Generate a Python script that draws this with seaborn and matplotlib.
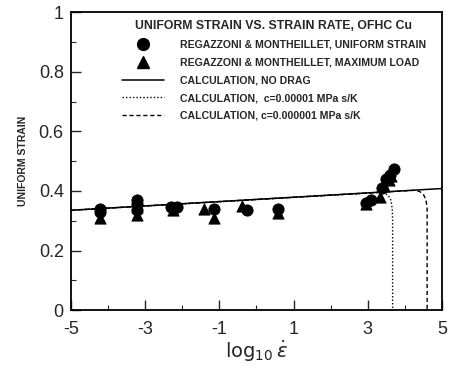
import matplotlib
matplotlib.use("Agg")
import matplotlib.pyplot as plt
import seaborn as sns
from matplotlib.lines import Line2D
from matplotlib.ticker import MultipleLocator

# ---- data ----
circ_x = [-4.22, -4.22, -3.22, -3.22, -3.22, -2.3, -2.15, -1.15, -0.25, 0.58, 2.95, 3.1, 3.38, 3.5, 3.6, 3.7]
circ_y = [0.34, 0.33, 0.37, 0.355, 0.335, 0.345, 0.345, 0.34, 0.335, 0.34, 0.36, 0.37, 0.41, 0.44, 0.455, 0.475]

tri_x = [-4.22, -3.22, -3.22, -2.25, -1.4, -1.15, -0.4, 0.58, 2.95, 3.33, 3.45, 3.58, 3.62]
tri_y = [0.31, 0.32, 0.345, 0.335, 0.34, 0.31, 0.35, 0.325, 0.355, 0.38, 0.415, 0.435, 0.45]

nodrag_x = [-5.0, 5.0]
nodrag_y = [0.335, 0.408]

c5_x = [-5.0, 3.3, 3.45, 3.55, 3.62, 3.66, 3.67, 3.67]
c5_y = [0.335, 0.395, 0.393, 0.385, 0.37, 0.34, 0.30, 0.0]

c6_x = [-5.0, 4.25, 4.4, 4.5, 4.57, 4.6, 4.6]
c6_y = [0.335, 0.402, 0.398, 0.388, 0.37, 0.34, 0.0]

x_ticks = [-5, -3, -1, 1, 3, 5]
x_tick_labels = ["-5", "-3", "-1", "1", "3", "5"]
y_ticks = [0, 0.2, 0.4, 0.6, 0.8, 1]
y_tick_labels = ["0", "0.2", "0.4", "0.6", "0.8", "1"]

legend_title = "UNIFORM STRAIN VS. STRAIN RATE, OFHC Cu"
legend_labels = [
    "REGAZZONI & MONTHEILLET, UNIFORM STRAIN",
    "REGAZZONI & MONTHEILLET, MAXIMUM LOAD",
    "CALCULATION, NO DRAG",
    "CALCULATION,  c=0.00001 MPa s/K",
    "CALCULATION, c=0.000001 MPa s/K",
]

sns.set_theme(style="ticks")
plt.rcParams["font.family"] = ["Liberation Sans", "DejaVu Sans"]
plt.rcParams["axes.unicode_minus"] = False

fig = plt.figure(figsize=(4.51, 3.67), dpi=100)
ax = fig.add_axes([0.157, 0.155, 0.823, 0.812])

sns.lineplot(x=nodrag_x, y=nodrag_y, ax=ax, color="black", lw=1.1,
             sort=False, estimator=None)
sns.lineplot(x=c5_x, y=c5_y, ax=ax, color="black", lw=1.0, linestyle=(0, (1, 1.5)),
             sort=False, estimator=None)
sns.lineplot(x=c6_x, y=c6_y, ax=ax, color="black", lw=1.0, linestyle=(0, (3, 2)),
             sort=False, estimator=None)
sns.scatterplot(x=circ_x, y=circ_y, ax=ax, marker="o", s=65, color="black",
                edgecolor="black", zorder=5)
sns.scatterplot(x=tri_x, y=tri_y, ax=ax, marker="^", s=65, color="black",
                edgecolor="black", zorder=5)

ax.set_xlim(-5, 5)
ax.set_ylim(0, 1)
ax.set_xticks(x_ticks)
ax.set_xticklabels(x_tick_labels)
ax.set_yticks(y_ticks)
ax.set_yticklabels(y_tick_labels)
ax.xaxis.set_minor_locator(MultipleLocator(1))
ax.yaxis.set_minor_locator(MultipleLocator(0.1))
ax.tick_params(which="major", direction="in", length=7, width=1.0, labelsize=13,
               top=False, right=False)
ax.tick_params(axis="x", which="major", pad=8)
ax.tick_params(axis="y", which="major", pad=5)
ax.tick_params(which="minor", direction="in", length=3.5, width=0.8,
               top=False, right=False)
for s in ax.spines.values():
    s.set_linewidth(1.3)
    s.set_color("black")

ax.set_xlabel(r"$\log_{10}\dot{\varepsilon}$", fontsize=14, labelpad=0)
ax.set_ylabel("UNIFORM STRAIN", fontsize=7.5, fontweight="bold", labelpad=8)

handles = [
    Line2D([], [], marker="o", color="black", linestyle="none", markersize=8.5),
    Line2D([], [], marker="^", color="black", linestyle="none", markersize=8.5),
    Line2D([], [], color="black", lw=1.1),
    Line2D([], [], color="black", lw=1.0, linestyle=(0, (1, 1.5))),
    Line2D([], [], color="black", lw=1.0, linestyle=(0, (3, 2))),
]
leg = ax.legend(handles, legend_labels, title=legend_title, loc="upper right",
                bbox_to_anchor=(0.968, 0.988), frameon=False,
                prop={"family": ["Liberation Sans"], "weight": "bold", "size": 7.6},
                handlelength=4.0, handletextpad=1.5, labelspacing=0.74,
                borderaxespad=0.0)
leg.get_title().set_fontsize(8.8)
leg.get_title().set_fontweight("bold")
leg.get_title().set_family(["Liberation Sans", "DejaVu Sans"])

fig.savefig("out.png", dpi=100)
